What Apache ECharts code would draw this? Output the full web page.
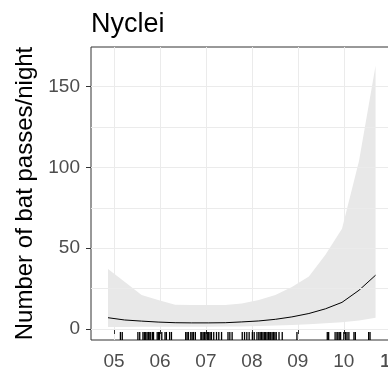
<!DOCTYPE html>
<html>
<head>
<meta charset="utf-8">
<script src="https://cdn.jsdelivr.net/npm/echarts@6/dist/echarts.min.js"></script>
<style>
html,body{margin:0;padding:0;background:#fff;}
#chart{width:388px;height:371px;}
</style>
</head>
<body>
<div id="chart"></div>
<script>
// Data
const titleText = 'Nyclei';
const yTitle = 'Number of bat passes/night';
const xMonths = [4.87, 5.23, 5.60, 5.96, 6.33, 6.69, 7.05, 7.42, 7.78, 8.15, 8.51, 8.87, 9.24, 9.60, 9.96, 10.33, 10.69];
const fitValues = [7.0, 5.6, 4.9, 4.3, 3.9, 3.8, 3.8, 3.9, 4.4, 5.0, 6.0, 7.5, 9.6, 12.5, 16.5, 24.0, 33.3];
const upperValues = [37.2, 29.2, 21.0, 17.9, 15.0, 14.8, 14.8, 14.8, 15.8, 18.0, 21.0, 26.0, 32.5, 46.0, 62.0, 104.0, 163.0];
const lowerValues = [1.2, 1.3, 1.4, 1.4, 1.4, 1.4, 1.4, 1.5, 1.6, 1.8, 2.1, 2.5, 3.0, 3.6, 4.2, 5.3, 7.0];
const rugMonths = [5.14, 5.18, 5.52, 5.56, 5.63, 5.66, 5.69, 5.72, 5.75, 5.78, 5.80, 5.84, 5.86, 5.94, 5.97, 5.99, 6.04, 6.11, 6.14, 6.21, 6.25,
  6.56, 6.59, 6.62, 6.67, 6.70, 6.73, 6.77, 6.89, 6.91, 6.94, 6.97, 7.00, 7.03, 7.06, 7.09, 7.12, 7.17, 7.23, 7.28, 7.34, 7.48, 7.52, 7.57,
  7.79, 7.84, 7.89, 7.94, 8.01, 8.05, 8.11, 8.15, 8.18, 8.21, 8.24, 8.27, 8.30, 8.33, 8.36, 8.39, 8.41, 8.44, 8.47, 8.50, 8.53, 8.59, 8.66, 8.98,
  9.64, 9.67, 9.81, 9.85, 9.87, 9.90, 9.93, 10.00, 10.04, 10.07, 10.11, 10.22, 10.25, 10.54, 10.57];
const xTickValues = [5, 6, 7, 8, 9, 10, 11];
const yTickValues = [0, 50, 100, 150];
const yGridValues = [0, 25, 50, 75, 100, 125, 150];

const FONT = 'Liberation Sans, Arial, sans-serif';
const chart = echarts.init(document.getElementById('chart'), null, {renderer: 'canvas'});

const pair = (xs, ys) => xs.map((x, i) => [x, ys[i]]);
const fmtMonth = v => (v < 10 ? '0' : '') + v;

chart.setOption({
  animation: false,
  backgroundColor: '#ffffff',
  title: {
    text: titleText,
    left: 86,
    top: 6,
    textStyle: {fontFamily: FONT, fontSize: 27, fontWeight: 'normal', color: '#000'}
  },
  grid: {
    left: 91, top: 47, width: 308, height: 293,
    outerBoundsMode: 'none', containLabel: false,
    show: true, borderColor: '#333333', borderWidth: 1, backgroundColor: 'transparent'
  },
  xAxis: {
    type: 'value',
    min: 4.5, max: 11.2, interval: 0.5,
    axisLine: {show: false},
    axisTick: {show: true, length: 5, customValues: xTickValues, lineStyle: {color: '#333333', width: 1}},
    axisLabel: {
      customValues: xTickValues, margin: 12, hideOverlap: false, showMaxLabel: true, showMinLabel: true,
      fontFamily: FONT, fontSize: 19, color: '#4d4d4d',
      formatter: fmtMonth
    },
    splitLine: {show: true, lineStyle: {color: '#ebebeb', width: 1}}
  },
  yAxis: {
    type: 'value',
    min: -6.8, max: 174.6,
    name: yTitle,
    nameLocation: 'middle',
    nameGap: 52,
    nameTextStyle: {fontFamily: FONT, fontSize: 24, color: '#000'},
    axisLine: {show: false},
    axisTick: {show: true, length: 5, customValues: yTickValues, lineStyle: {color: '#333333', width: 1}},
    axisLabel: {customValues: yTickValues, margin: 11, fontFamily: FONT, fontSize: 19, color: '#4d4d4d'},
    splitLine: {show: false}
  },
  series: [
    {
      type: 'line', data: [], z: 1, silent: true,
      markLine: {
        silent: true, symbol: ['none', 'none'], label: {show: false},
        lineStyle: {color: '#ebebeb', width: 1, type: 'solid'},
        data: yGridValues.map(v => ({yAxis: v}))
      }
    },
    {
      type: 'custom', z: 2, silent: true,
      data: xMonths.map((x, i) => [x, lowerValues[i], upperValues[i]]),
      encode: {x: 0, y: [1, 2]},
      renderItem: function (params, api) {
        if (params.dataIndex !== 0) return null;
        const pts = [];
        for (let i = 0; i < xMonths.length; i++) pts.push(api.coord([xMonths[i], upperValues[i]]));
        for (let i = xMonths.length - 1; i >= 0; i--) pts.push(api.coord([xMonths[i], lowerValues[i]]));
        return {type: 'polygon', shape: {points: pts}, style: {fill: '#e8e8e8'}};
      }
    },
    {
      type: 'line', data: pair(xMonths, fitValues), z: 3,
      symbol: 'none', lineStyle: {color: '#000', width: 1}
    },
    {
      type: 'scatter', data: rugMonths.map(x => [x, -4.3]), z: 4,
      symbol: 'rect', symbolSize: [1.3, 8], itemStyle: {color: '#000', opacity: 1}
    }
  ]
});

// The last tick label (partly outside the window) is placed through the axis scale
const lastTick = xTickValues[xTickValues.length - 1];
const p = chart.convertToPixel({xAxisIndex: 0, yAxisIndex: 0}, [lastTick, -6.8]);
chart.setOption({
  graphic: [{
    type: 'text', x: p[0], y: p[1] + 12, z: 10,
    style: {text: fmtMonth(lastTick), font: '19px ' + FONT, fill: '#4d4d4d', align: 'center', verticalAlign: 'top'}
  }]
});
</script>
</body>
</html>
